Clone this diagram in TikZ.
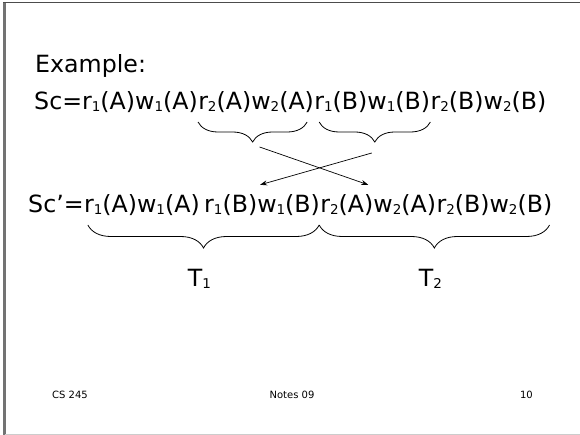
\documentclass[tikz,border=0pt]{standalone}
\usepackage{fontspec}
\setmainfont{DejaVu Sans}
\usetikzlibrary{decorations.pathreplacing,arrows.meta}
\newcommand{\ix}[1]{\raisebox{-1.5pt}{\fontsize{13.5}{14}\selectfont #1}}

\begin{document}
\begin{tikzpicture}[x=1pt,y=-1pt,
	op/.style={inner sep=0pt, anchor=base west, font=\fontsize{23.7}{28}\selectfont},
	foot/.style={inner sep=0pt, anchor=base, font=\fontsize{10}{12}\selectfont},
	brc/.style={decorate, decoration={brace, mirror, amplitude=#1}, line width=0.8pt},
	mv/.style={-{Stealth[length=7pt,width=5pt]}, line width=0.7pt}]
	\useasboundingbox (0,0) rectangle (580,435);
	\draw[black!70, line width=1pt]		(3.3,3) -- (580,3);
	\draw[black!55, line width=2.7pt]	(4.7,3) -- (4.7,435);
	\draw[black!20, line width=1pt]		(4.7,434) -- (580,434);

	\node (Ex)  at (35,73)		[op]	{Example:};
	\node (Sc0) at (34,110)		[op]	{Sc=r\ix{1}(A)w\ix{1}(A)};
	\node (Sc1) at (Sc0.base east)	[op]	{r\ix{2}(A)w\ix{2}(A)};
	\node (Sc2) at (Sc1.base east)	[op]	{r\ix{1}(B)w\ix{1}(B)};
	\node (Sc3) at (Sc2.base east)	[op]	{r\ix{2}(B)w\ix{2}(B)};

	\node (Sp0) at (28,213)		[op]	{Sc’=};
	\node (Sp1) at (Sp0.base east)	[op]	{r\ix{1}(A)w\ix{1}(A)\hspace{4pt}\null};
	\node (Sp2) at (Sp1.base east)	[op]	{r\ix{1}(B)w\ix{1}(B)};
	\node (Sp3) at (Sp2.base east)	[op]	{r\ix{2}(A)w\ix{2}(A)};
	\node (Sp4) at (Sp3.base east)	[op]	{r\ix{2}(B)w\ix{2}(B)};

	\draw[brc=20pt] ([yshift=-12pt]Sc1.base west) -- ([xshift=-7pt,yshift=-12pt]Sc1.base east) coordinate[midway] (B1);
	\draw[brc=20pt] ([xshift=5pt,yshift=-12pt]Sc2.base west) -- ([yshift=-12pt]Sc2.base east) coordinate[midway] (B2);
	\draw[brc=23pt] ([xshift=4pt,yshift=-12pt]Sp1.base west) -- ([xshift=-1pt,yshift=-12pt]Sp2.base east) coordinate[midway] (L1);
	\draw[brc=23pt] ([xshift=-1pt,yshift=-12pt]Sp3.base west) -- ([xshift=-3pt,yshift=-12pt]Sp4.base east) coordinate[midway] (L2);

	\draw[mv] ([xshift=7pt,yshift=-25pt]B1) -- ([xshift=-10pt,yshift=10pt]Sp3.north);
	\draw[mv] ([xshift=-3pt,yshift=-31pt]B2) -- ([xshift=-2pt,yshift=10pt]Sp2.north);

	\node (T1) at ([xshift=-4pt,yshift=-62pt]L1)	[op, anchor=base]	{T\ix{1}};
	\node (T2) at ([xshift=-4pt,yshift=-62pt]L2)	[op, anchor=base]	{T\ix{2}};

	\node (cs) at (52,398)	[foot, anchor=base west]	{CS 245};
	\node (nt) at (292,398)	[foot]				{Notes 09};
	\node (pg) at (533,398)	[foot, anchor=base east]	{10};
\end{tikzpicture}
\end{document}
